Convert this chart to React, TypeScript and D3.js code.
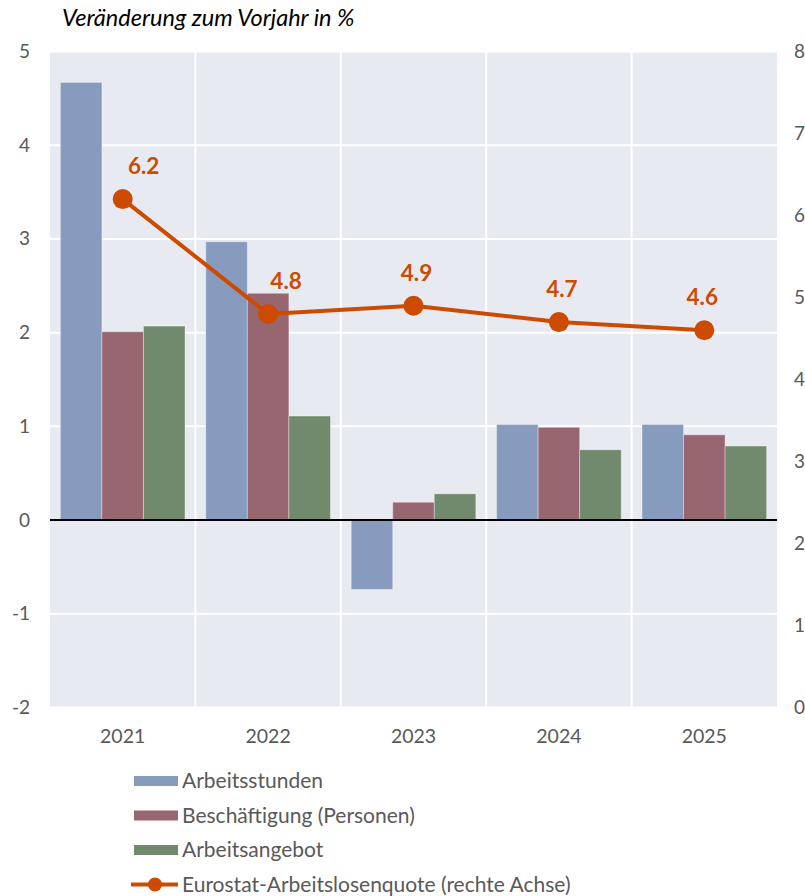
import React from "react";
import * as d3 from "d3";

const years = ["2021", "2022", "2023", "2024", "2025"];
const arbeitsstunden = [4.67, 2.97, -0.74, 1.02, 1.02];
const beschaeftigung = [2.01, 2.42, 0.19, 0.99, 0.91];
const arbeitsangebot = [2.07, 1.11, 0.28, 0.75, 0.79];
const arbeitslosenquote = [6.2, 4.8, 4.9, 4.7, 4.6];
const leftTicks = [-2, -1, 0, 1, 2, 3, 4, 5];
const rightTicks = [0, 1, 2, 3, 4, 5, 6, 7, 8];

const barSeries = [
  { name: "Arbeitsstunden", values: arbeitsstunden, color: "#879BBE" },
  { name: "Beschäftigung (Personen)", values: beschaeftigung, color: "#986671" },
  { name: "Arbeitsangebot", values: arbeitsangebot, color: "#71896D" },
];
const lineName = "Eurostat-Arbeitslosenquote (rechte Achse)";
const lineColor = "#CC4B00";

// horizontal nudges of the value labels so they clear the line
const labelDx = [21, 18, 3, 3, -2];

export default function App() {
  const W = 805;
  const H = 896;
  const left = 50;
  const right = 777;
  const top = 51.5;
  const bottom = 707.5;
  const font = "Lato, 'Open Sans', sans-serif";
  const textColor = "#595959";

  const x = d3.scaleBand<string>().domain(years).range([left, right]).paddingInner(0).paddingOuter(0);
  const inner = d3
    .scaleBand<number>()
    .domain(barSeries.map((_, i) => i))
    .range([0, x.bandwidth()])
    .paddingOuter(0.25)
    .paddingInner(0);
  const yL = d3.scaleLinear().domain([-2, 5]).range([bottom, top]);
  const yR = d3.scaleLinear().domain([0, 8]).range([bottom, top]);

  const linePath = d3
    .line<number>()
    .x((_, i) => x(years[i])! + x.bandwidth() / 2)
    .y((d) => yR(d))(arbeitslosenquote);

  const boundaries = years.slice(1).map((y) => x(y)!);

  return (
    <svg width={W} height={H} style={{ display: "block", position: "absolute", left: 0, top: 0 }} fontFamily={font}>
      <rect x={0} y={0} width={W} height={H} fill="#ffffff" />
      <text x={62} y={26} fontSize={23.5} fontStyle="italic" fill="#000">
        Veränderung zum Vorjahr in %
      </text>
      <rect x={left} y={top} width={right - left} height={bottom - top} fill="#E8EAF2" />
      {leftTicks.map((t) => (
        <line key={"g" + t} x1={left} x2={right} y1={yL(t)} y2={yL(t)} stroke="#ffffff" strokeWidth={2} />
      ))}
      {boundaries.map((b) => (
        <line key={"v" + b} x1={b} x2={b} y1={top} y2={bottom} stroke="#ffffff" strokeWidth={2} />
      ))}
      {barSeries.map((s, si) =>
        s.values.map((v, i) => (
          <rect
            key={s.name + i}
            x={x(years[i])! + inner(si)!}
            y={Math.min(yL(v), yL(0))}
            width={inner.bandwidth()}
            height={Math.abs(yL(v) - yL(0))}
            fill={s.color}
            stroke="#ffffff"
            strokeOpacity={0.35}
            strokeWidth={1}
          />
        ))
      )}
      <line x1={left} x2={right} y1={yL(0)} y2={yL(0)} stroke="#000" strokeWidth={2} />
      <path d={linePath ?? ""} fill="none" stroke={lineColor} strokeWidth={4} />
      {arbeitslosenquote.map((v, i) => {
        const cx = x(years[i])! + x.bandwidth() / 2;
        return (
          <g key={"p" + i}>
            <circle cx={cx} cy={yR(v)} r={10} fill={lineColor} />
            <text
              x={cx + labelDx[i]}
              y={yR(v) - 25}
              textAnchor="middle"
              fontSize={22.5}
              fontWeight="bold"
              fill={lineColor}
            >
              {v.toFixed(1)}
            </text>
          </g>
        );
      })}
      {leftTicks.map((t) => (
        <text key={"lt" + t} x={30} y={yL(t) + 6.5} textAnchor="end" fontSize={19} fill={textColor}>
          {t}
        </text>
      ))}
      {rightTicks.map((t) => (
        <text key={"rt" + t} x={794} y={yR(t) + 6.5} textAnchor="start" fontSize={19} fill={textColor}>
          {t}
        </text>
      ))}
      {years.map((y) => (
        <text key={"x" + y} x={x(y)! + x.bandwidth() / 2} y={743} textAnchor="middle" fontSize={19.5} fill={textColor}>
          {y}
        </text>
      ))}
      {barSeries.map((s, i) => {
        const cy = 781 + i * 34.5;
        return (
          <g key={"lg" + i}>
            <rect x={134} y={cy - 5} width={44} height={10} fill={s.color} />
            <text x={182} y={cy + 7} fontSize={21} fill={textColor}>
              {s.name}
            </text>
          </g>
        );
      })}
      <g>
        <line x1={131} x2={178} y1={884.5} y2={884.5} stroke={lineColor} strokeWidth={4} />
        <circle cx={155} cy={884.5} r={7} fill={lineColor} />
        <text x={182} y={891.5} fontSize={21} fill={textColor}>
          {lineName}
        </text>
      </g>
    </svg>
  );
}
